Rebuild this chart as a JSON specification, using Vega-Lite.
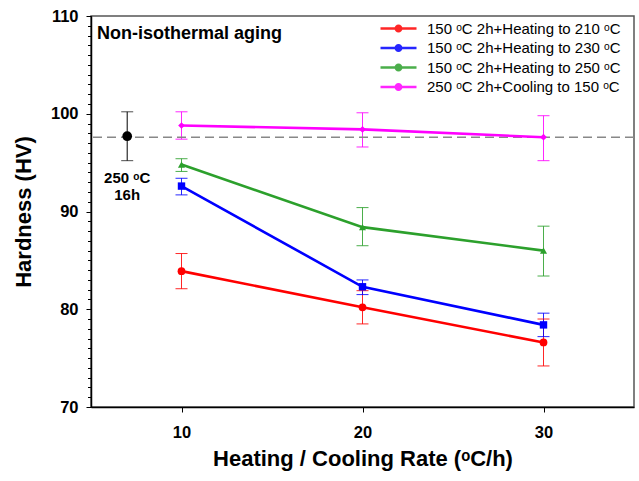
{
  "$schema": "https://vega.github.io/schema/vega-lite/v6.json",
  "autosize": "none",
  "width": 543,
  "height": 391,
  "padding": {"left": 91, "top": 16, "right": 5, "bottom": 74},
  "background": "white",
  "config": {
    "font": "Liberation Sans",
    "view": {"stroke": "#555555", "strokeWidth": 1.5},
    "axis": {
      "grid": false,
      "domainColor": "black",
      "domainWidth": 1.5,
      "tickColor": "black",
      "tickWidth": 1,
      "labelFont": "Liberation Sans",
      "labelFontWeight": "bold",
      "labelFontSize": 16.5,
      "labelColor": "black",
      "titleFont": "Liberation Sans",
      "titleFontSize": 22,
      "titleFontWeight": "bold",
      "titleColor": "black"
    },
    "legend": {
      "symbolType": "M-4.5,-0.32H4.5V0.32H-4.5Z M1,0A1,1 0 1,1 -1,0A1,1 0 1,1 1,0Z"
    }
  },
  "resolve": {"scale": {"y": "independent"}, "axis": {"y": "independent"}},
  "datasets": {
    "main": [
      {"s": "150 ᵒC 2h+Heating to 210 ᵒC", "x": 10, "y": 83.9, "lo": 82.1, "hi": 85.7},
      {"s": "150 ᵒC 2h+Heating to 210 ᵒC", "x": 20, "y": 80.2, "lo": 78.5, "hi": 81.9},
      {"s": "150 ᵒC 2h+Heating to 210 ᵒC", "x": 30, "y": 76.6, "lo": 74.2, "hi": 79.0},
      {"s": "150 ᵒC 2h+Heating to 230 ᵒC", "x": 10, "y": 92.6, "lo": 91.7, "hi": 93.4},
      {"s": "150 ᵒC 2h+Heating to 230 ᵒC", "x": 20, "y": 82.3, "lo": 81.5, "hi": 83.0},
      {"s": "150 ᵒC 2h+Heating to 230 ᵒC", "x": 30, "y": 78.4, "lo": 77.2, "hi": 79.6},
      {"s": "150 ᵒC 2h+Heating to 250 ᵒC", "x": 10, "y": 94.8, "lo": 94.1, "hi": 95.4},
      {"s": "150 ᵒC 2h+Heating to 250 ᵒC", "x": 20, "y": 88.4, "lo": 86.5, "hi": 90.4},
      {"s": "150 ᵒC 2h+Heating to 250 ᵒC", "x": 30, "y": 86.0, "lo": 83.4, "hi": 88.5},
      {"s": "250 ᵒC 2h+Cooling to 150 ᵒC", "x": 10, "y": 98.8, "lo": 97.4, "hi": 100.2},
      {"s": "250 ᵒC 2h+Cooling to 150 ᵒC", "x": 20, "y": 98.4, "lo": 96.6, "hi": 100.1},
      {"s": "250 ᵒC 2h+Cooling to 150 ᵒC", "x": 30, "y": 97.6, "lo": 95.2, "hi": 99.8}
    ],
    "ref": [
      {"x": 7, "y": 97.7, "lo": 95.2, "hi": 100.2}
    ],
    "baseline": [
      {"y": 97.6}
    ],
    "notes": [
      {"x": 5.33, "y": 108.2, "t": "Non-isothermal aging", "k": "title"},
      {"x": 7, "y": 93.4, "t": "250 ᵒC", "k": "ref"},
      {"x": 7, "y": 91.65, "t": "16h", "k": "ref"}
    ]
  },
  "layer": [
    {
      "data": {"name": "main"},
      "mark": {"type": "rule", "strokeWidth": 1, "opacity": 0.85},
      "encoding": {
        "x": {
          "field": "x", "type": "quantitative",
          "scale": {"domain": [5, 35], "nice": false, "zero": false},
          "axis": {
            "values": [10, 20, 30],
            "title": "Heating / Cooling Rate (ᵒC/h)",
            "tickSize": 5,
            "labelPadding": 12,
            "titlePadding": 8
          }
        },
        "y": {
          "field": "lo", "type": "quantitative",
          "scale": {"domain": [70, 110], "nice": false, "zero": false},
          "axis": {
            "orient": "left",
            "values": [70, 80, 90, 100, 110],
            "tickSize": 5,
            "labelPadding": 8,
            "labelOverlap": false,
            "title": "Hardness (HV)",
            "titlePadding": 15
          }
        },
        "y2": {"field": "hi"},
        "color": {"field": "s", "type": "nominal", "sort": null}
      }
    },
    {
      "data": {"name": "baseline"},
      "mark": {"type": "rule", "color": "#888888", "strokeWidth": 1.5, "strokeDash": [9, 5]},
      "encoding": {
        "y": {
          "field": "y", "type": "quantitative",
          "scale": {"domain": [70, 110], "nice": false, "zero": false},
          "axis": {
            "orient": "left",
            "values": [70,71,72,73,74,75,76,77,78,79,80,81,82,83,84,85,86,87,88,89,90,91,92,93,94,95,96,97,98,99,100,101,102,103,104,105,106,107,108,109,110],
            "labels": false,
            "domain": false,
            "tickSize": 3.5,
            "tickWidth": 1,
            "tickColor": "black",
            "title": null
          }
        }
      }
    },
    {
      "data": {"name": "main"},
      "mark": {"type": "tick", "orient": "horizontal", "size": 12, "thickness": 1, "opacity": 0.85},
      "encoding": {
        "x": {"field": "x", "type": "quantitative"},
        "y": {"field": "lo", "type": "quantitative", "axis": null, "scale": {"domain": [70, 110], "nice": false, "zero": false}},
        "color": {"field": "s", "type": "nominal", "sort": null}
      }
    },
    {
      "data": {"name": "main"},
      "mark": {"type": "tick", "orient": "horizontal", "size": 12, "thickness": 1, "opacity": 0.85},
      "encoding": {
        "x": {"field": "x", "type": "quantitative"},
        "y": {"field": "hi", "type": "quantitative", "axis": null, "scale": {"domain": [70, 110], "nice": false, "zero": false}},
        "color": {"field": "s", "type": "nominal", "sort": null}
      }
    },
    {
      "data": {"name": "main"},
      "mark": {"type": "line", "strokeWidth": 2.6},
      "encoding": {
        "x": {"field": "x", "type": "quantitative"},
        "y": {"field": "y", "type": "quantitative", "axis": null, "scale": {"domain": [70, 110], "nice": false, "zero": false}},
        "color": {"field": "s", "type": "nominal", "sort": null}
      }
    },
    {
      "data": {"name": "main"},
      "mark": {"type": "point", "filled": true, "opacity": 1},
      "encoding": {
        "x": {"field": "x", "type": "quantitative"},
        "y": {"field": "y", "type": "quantitative", "axis": null, "scale": {"domain": [70, 110], "nice": false, "zero": false}},
        "color": {
          "field": "s", "type": "nominal",
          "sort": null,
          "scale": {"range": ["#ff0000", "#0000ff", "#2ca02c", "#ff00ff"]},
          "legend": {
            "title": null,
            "orient": "none",
            "legendX": 300,
            "legendY": 5,
            "padding": 0,
            "symbolSize": 64,
            "symbolType": "M-4.5,-0.32H4.5V0.32H-4.5Z M1,0A1,1 0 1,1 -1,0A1,1 0 1,1 1,0Z",
            "symbolStrokeWidth": 0,
            "labelOffset": 21,
            "labelFont": "Liberation Sans",
            "labelFontSize": 15,
            "labelFontWeight": "normal",
            "labelColor": "black",
            "labelLimit": 400,
            "rowPadding": 3.5
          }
        },
        "shape": {
          "field": "s", "type": "nominal",
          "sort": null,
          "scale": {"range": ["circle", "square", "triangle-up", "diamond"]},
          "legend": null
        },
        "size": {
          "field": "s", "type": "nominal",
          "sort": null,
          "scale": {"range": [60, 45, 70, 80]},
          "legend": null
        }
      }
    },
    {
      "data": {"name": "ref"},
      "mark": {"type": "rule", "color": "black", "strokeWidth": 1},
      "encoding": {
        "x": {"field": "x", "type": "quantitative"},
        "y": {"field": "lo", "type": "quantitative", "axis": null, "scale": {"domain": [70, 110], "nice": false, "zero": false}},
        "y2": {"field": "hi"}
      }
    },
    {
      "data": {"name": "ref"},
      "mark": {"type": "tick", "orient": "horizontal", "size": 12, "thickness": 1, "color": "black"},
      "encoding": {
        "x": {"field": "x", "type": "quantitative"},
        "y": {"field": "lo", "type": "quantitative", "axis": null, "scale": {"domain": [70, 110], "nice": false, "zero": false}}
      }
    },
    {
      "data": {"name": "ref"},
      "mark": {"type": "tick", "orient": "horizontal", "size": 12, "thickness": 1, "color": "black"},
      "encoding": {
        "x": {"field": "x", "type": "quantitative"},
        "y": {"field": "hi", "type": "quantitative", "axis": null, "scale": {"domain": [70, 110], "nice": false, "zero": false}}
      }
    },
    {
      "data": {"name": "ref"},
      "mark": {"type": "circle", "color": "black", "size": 95, "opacity": 1},
      "encoding": {
        "x": {"field": "x", "type": "quantitative"},
        "y": {"field": "y", "type": "quantitative", "axis": null, "scale": {"domain": [70, 110], "nice": false, "zero": false}}
      }
    },
    {
      "data": {"name": "notes"},
      "transform": [{"filter": "datum.k == 'title'"}],
      "mark": {"type": "text", "align": "left", "baseline": "middle", "fontSize": 18, "fontWeight": "bold", "color": "black"},
      "encoding": {
        "x": {"field": "x", "type": "quantitative"},
        "y": {"field": "y", "type": "quantitative", "axis": null, "scale": {"domain": [70, 110], "nice": false, "zero": false}},
        "text": {"field": "t"}
      }
    },
    {
      "data": {"name": "notes"},
      "transform": [{"filter": "datum.k == 'ref'"}],
      "mark": {"type": "text", "align": "center", "baseline": "middle", "fontSize": 15, "fontWeight": "bold", "color": "black"},
      "encoding": {
        "x": {"field": "x", "type": "quantitative"},
        "y": {"field": "y", "type": "quantitative", "axis": null, "scale": {"domain": [70, 110], "nice": false, "zero": false}},
        "text": {"field": "t"}
      }
    }
  ]
}
